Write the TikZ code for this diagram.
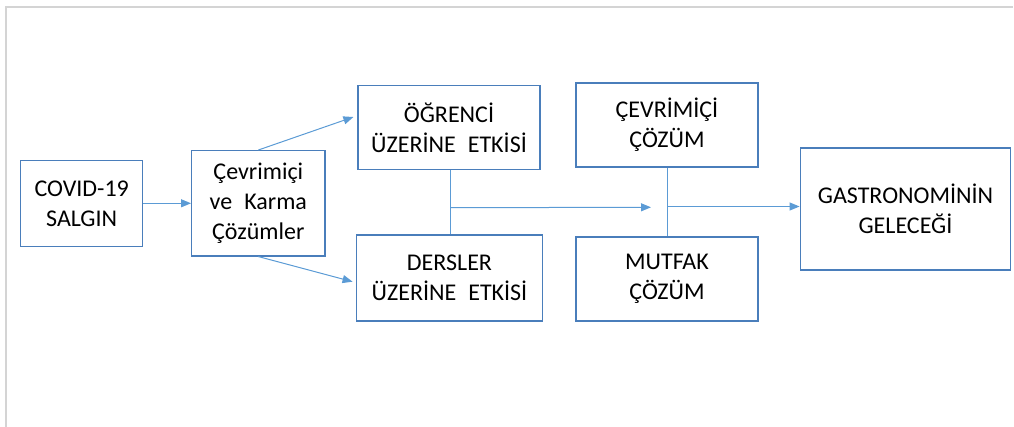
\documentclass[tikz,border=0pt]{standalone}
\usepackage{fontspec}
\setmainfont{Carlito}
\usetikzlibrary{arrows.meta}

\definecolor{boxblue}{HTML}{4A7EBB}
\definecolor{linkblue}{HTML}{5B9BD5}
\definecolor{framegray}{HTML}{D4D4D4}

\tikzset{
  stagebox/.style={draw=boxblue, line width=0.9pt, fill=white, align=center,
    inner sep=0pt, font=\fontsize{18}{22.5}\selectfont},
  flow/.style={draw=linkblue, line width=0.75pt,
    -{Triangle[length=7.5pt, width=6pt]}},
  link/.style={draw=linkblue, line width=0.75pt}
}

\begin{document}
\begin{tikzpicture}[x=0.75pt, y=-0.75pt]

  \useasboundingbox (0,0) rectangle (1014,427);
  \draw[framegray, line width=1.2pt] (6,427) -- (6,7) -- (1013,7);

  \node[stagebox, minimum width=91.5pt, minimum height=64.5pt] (covid) at (81.7,203.3) {COVID-19\\SALGIN};
  \node[stagebox, minimum width=100pt, minimum height=79pt] (karma) at (258.3,203.3) {Çevrimiçi\\ve\enspace Karma\\Çözümler};

  \node[stagebox, minimum width=136.5pt, minimum height=62.5pt] (ogrenci) at (449,127.5) {ÖĞRENCİ\\ÜZERİNE\enspace ETKİSİ};
  \node[stagebox, minimum width=140pt, minimum height=64.5pt] (dersler) at (449.5,278) {DERSLER\\ÜZERİNE\enspace ETKİSİ};

  \node[stagebox, minimum width=136.5pt, minimum height=63pt] (cevrim) at (667,125) {ÇEVRİMİÇİ\\ÇÖZÜM};
  \node[stagebox, minimum width=136.5pt, minimum height=63pt] (mutfak) at (667,279) {MUTFAK\\ÇÖZÜM};

  \node[stagebox, minimum width=158pt, minimum height=91.5pt] (gelecek) at (905.5,209) {GASTRONOMİNİN\\GELECEĞİ};

  % junctions on the middle line
  \coordinate (etki) at (450,207.7);
  \coordinate (etkiuc) at (651,207.3);
  \coordinate (cozum) at (667,206.5);

  \draw[flow] (covid) -- (karma);
  \draw[flow] (karma.north) -- ([shift={(-4,-10.5)}]ogrenci.west);
  \draw[flow] (karma.south) -- ([shift={(-3,3.7)}]dersler.west);

  \draw[link] (ogrenci.south -| etki) -- (dersler.north -| etki);
  \draw[flow] (etki) -- (etkiuc);

  \draw[link] (cevrim.south) -- (mutfak.north);
  \draw[flow] (cozum) -- (cozum -| gelecek.west);

\end{tikzpicture}
\end{document}
